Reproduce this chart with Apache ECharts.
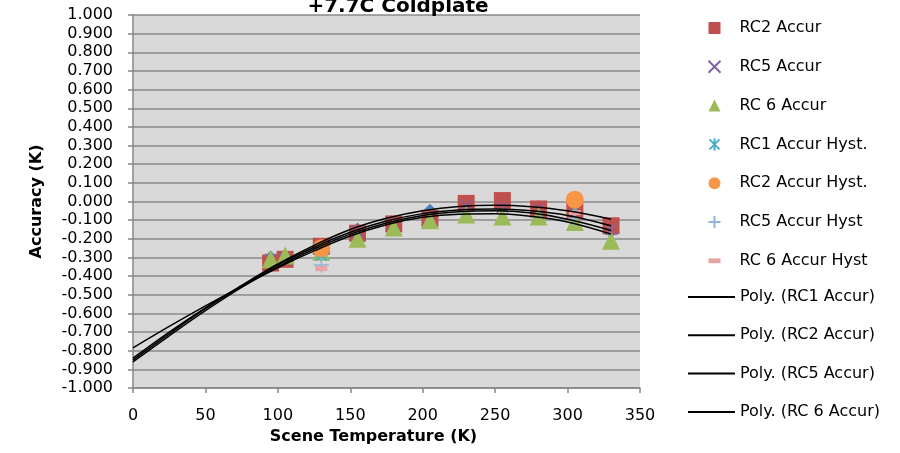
<!DOCTYPE html>
<html>
<head>
<meta charset="utf-8">
<script src="https://cdn.jsdelivr.net/npm/echarts@6/dist/echarts.min.js"></script>
<style>
html, body { margin: 0; padding: 0; background: #fff; }
#chartmain { width: 900px; height: 453px; }
</style>
</head>
<body>
<div id="chartmain"></div>
<script>
// scene temperatures (K)
var temps = [95, 105, 130, 155, 180, 205, 230, 255, 280, 305, 330];
var rc1Accur = [-0.30, -0.30, -0.24, -0.15, -0.12, -0.05, -0.03, -0.03, -0.03, -0.05, -0.16];
var rc2Accur = [-0.33, -0.31, -0.24, -0.17, -0.12, -0.09, -0.01, 0.005, -0.04, -0.05, -0.13];
var rc5Accur = [-0.31, -0.31, -0.25, -0.16, -0.12, -0.08, -0.02, -0.03, -0.04, -0.04, -0.15];
var rc6Accur = [-0.31, -0.29, -0.27, -0.20, -0.14, -0.10, -0.07, -0.08, -0.08, -0.11, -0.21];

// hysteresis points
var hystTemps = [130, 305];
var rc1Hyst = [-0.29, -0.04];
var rc2Hyst = [-0.25, 0.01];
var rc5Hyst = [-0.34, -0.09];
var rc6Hyst = [-0.36, -0.06];

// trendlines
var fitTemps = [0, 25, 50, 75, 100, 125, 150, 175, 200, 225, 250, 275, 300, 330];
var polyRc1 = [-0.86, -0.72, -0.585, -0.46, -0.35, -0.255, -0.175, -0.115, -0.075, -0.055, -0.05, -0.062, -0.095, -0.155];
var polyRc2 = [-0.84, -0.70, -0.57, -0.45, -0.335, -0.235, -0.15, -0.09, -0.05, -0.027, -0.02, -0.028, -0.05, -0.095];
var polyRc5 = [-0.85, -0.71, -0.575, -0.455, -0.34, -0.245, -0.165, -0.105, -0.065, -0.045, -0.04, -0.05, -0.075, -0.13];
var polyRc6 = [-0.785, -0.67, -0.56, -0.455, -0.355, -0.265, -0.185, -0.125, -0.085, -0.068, -0.066, -0.08, -0.11, -0.175];

var markerNames = ['RC2 Accur', 'RC5 Accur', 'RC 6 Accur', 'RC1 Accur Hyst.', 'RC2 Accur Hyst.', 'RC5 Accur Hyst', 'RC 6 Accur Hyst'];
var polyNames = ['Poly. (RC1 Accur)', 'Poly. (RC2 Accur)', 'Poly. (RC5 Accur)', 'Poly. (RC 6 Accur)'];

function pairs(xs, ys) {
	var out = [];
	for (var i = 0; i < xs.length; i++) out.push([xs[i], ys[i]]);
	return out;
}

var fontName = 'DejaVu Sans';

function scatter(name, xs, ys, symbol, size, style) {
	style.opacity = 1;
	return {
		name: name,
		type: 'scatter',
		symbol: symbol,
		symbolSize: size,
		itemStyle: style,
		silent: true,
		data: pairs(xs, ys)
	};
}

function poly(name, ys) {
	return {
		name: name,
		type: 'line',
		symbol: 'none',
		smooth: 0.4,
		silent: true,
		lineStyle: { color: '#000', width: 1.5 },
		itemStyle: { color: '#000' },
		z: 3,
		data: pairs(fitTemps, ys)
	};
}

var xPath = 'path://M0,0L10,10M10,0L0,10';
var starPath = 'path://M0,0L10,10M10,0L0,10M5,-1L5,11';
var plusPath = 'path://M5,0L5,10M0,5L10,5';
var dashPath = 'path://M0,0L10,0L10,4L0,4Z';

var series = [
	scatter('RC1 Accur', temps, rc1Accur, 'diamond', 14, { color: '#4F81BD' }),
	scatter('RC2 Accur', temps, rc2Accur, 'rect', 17, { color: '#C0504D' }),
	scatter('RC5 Accur', temps, rc5Accur, xPath, 11, { color: 'none', borderColor: '#8064A2', borderWidth: 1.5 }),
	scatter('RC 6 Accur', temps, rc6Accur, 'triangle', 18, { color: '#9BBB59' }),
	scatter('RC1 Accur Hyst.', hystTemps, rc1Hyst, starPath, 11, { color: 'none', borderColor: '#4BACC6', borderWidth: 2 }),
	scatter('RC2 Accur Hyst.', hystTemps, rc2Hyst, 'circle', 18, { color: '#F79646' }),
	scatter('RC5 Accur Hyst', hystTemps, rc5Hyst, plusPath, 15, { color: 'none', borderColor: '#95B3D7', borderWidth: 1.5 }),
	scatter('RC 6 Accur Hyst', hystTemps, rc6Hyst, dashPath, [12, 5], { color: '#E6A4A2' }),
	poly(polyNames[0], polyRc1),
	poly(polyNames[1], polyRc2),
	poly(polyNames[2], polyRc5),
	poly(polyNames[3], polyRc6)
];

var legendText = { fontFamily: fontName, fontSize: 16, lineHeight: 16, color: '#000' };

var option = {
	animation: false,
	title: {
		text: '+7.7C Coldplate',
		left: 398,
		top: -3,
		padding: 0,
		textAlign: 'center',
		textStyle: { fontFamily: fontName, fontSize: 20, fontWeight: 'bold', color: '#000' }
	},
	legend: [{
		orient: 'vertical',
		left: 706,
		top: 20,
		padding: 0,
		itemWidth: 12,
		itemHeight: 12,
		itemGap: 22.3,
		textStyle: Object.assign({ padding: [0, 0, 0, 14] }, legendText),
		data: markerNames,
		selectedMode: false
	}, {
		orient: 'vertical',
		left: 688,
		top: 289,
		padding: 0,
		itemWidth: 47,
		itemHeight: 2,
		itemGap: 22.3,
		textStyle: legendText,
		data: polyNames.map(function (n) { return { name: n, icon: 'rect' }; }),
		selectedMode: false
	}],
	grid: {
		left: 133,
		right: 260,
		top: 15,
		bottom: 65,
		show: true,
		backgroundColor: '#D9D9D9',
		borderWidth: 0
	},
	xAxis: {
		type: 'value',
		min: 0,
		max: 350,
		interval: 50,
		name: 'Scene Temperature (K)',
		nameLocation: 'middle',
		nameGap: 33,
		nameTextStyle: { fontFamily: fontName, fontSize: 16, fontWeight: 'bold', color: '#000', padding: [0, 26, 0, 0] },
		axisLine: { onZero: false, lineStyle: { color: '#868686', width: 1.5 } },
		axisTick: { show: true, length: 5, lineStyle: { color: '#868686', width: 1.5 } },
		axisLabel: { margin: 20, fontFamily: fontName, fontSize: 16, color: '#000' },
		splitLine: { show: false }
	},
	yAxis: {
		type: 'value',
		min: -1,
		max: 1,
		interval: 0.1,
		name: 'Accuracy (K)',
		nameLocation: 'middle',
		nameGap: 88,
		nameTextStyle: { fontFamily: fontName, fontSize: 16, fontWeight: 'bold', color: '#000' },
		axisLine: { show: true, onZero: false, lineStyle: { color: '#868686', width: 1.5 } },
		axisTick: { show: true, length: 5, lineStyle: { color: '#868686', width: 1.5 } },
		axisLabel: {
			margin: 20,
			fontFamily: fontName,
			fontSize: 16,
			color: '#000',
			formatter: function (v) { return v.toFixed(3); }
		},
		splitLine: { show: true, lineStyle: { color: '#8A8A8A', width: 1.5 } }
	},
	series: series
};

var myChart = echarts.init(document.getElementById('chartmain'));
myChart.setOption(option);
</script>
</body>
</html>
